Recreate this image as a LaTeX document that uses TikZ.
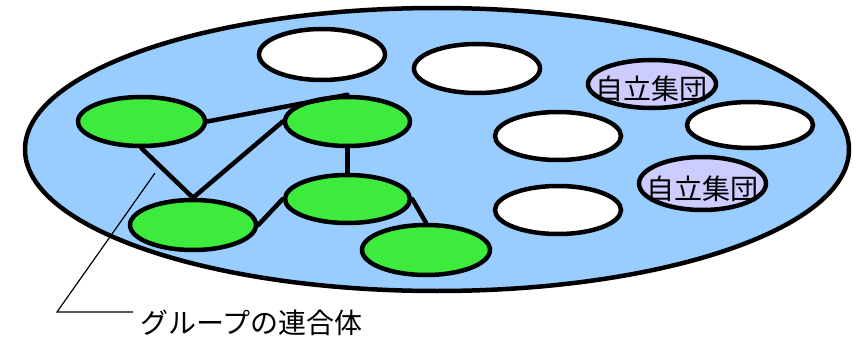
\documentclass[tikz,border=0pt]{standalone}
\usepackage{fontspec}
\newfontfamily\cjk{Noto Sans CJK JP}
\usetikzlibrary{shapes.geometric}
\definecolor{skyfill}{HTML}{99CCFF}
\definecolor{grpgreen}{HTML}{3CEB3C}
\definecolor{autopurple}{HTML}{CCCCFF}
\begin{document}
\begin{tikzpicture}[x=1pt,y=-1pt,
  oval/.style={ellipse,draw=black,line width=4.5pt,inner sep=0pt},
  gnode/.style={oval,fill=grpgreen},
  wnode/.style={oval,fill=white},
  pnode/.style={oval,fill=autopurple},
  link/.style={line width=4.5pt,line cap=round},
  lbl/.style={font=\cjk\fontsize{28}{30}\selectfont,inner sep=0pt}]
\useasboundingbox (0,0) rectangle (863,337);
\node[oval,fill=skyfill,minimum width=824pt,minimum height=283pt] (big) at (437,149.5) {};
% white groups
\node[wnode,minimum width=126pt,minimum height=51pt] (w1) at (322,54.5) {};
\node[wnode,minimum width=126pt,minimum height=49pt] (w2) at (477,68.5) {};
\node[wnode,minimum width=126pt,minimum height=48pt] (w3) at (558,136) {};
\node[wnode,minimum width=126pt,minimum height=46pt] (w4) at (750,125) {};
\node[wnode,minimum width=126pt,minimum height=48pt] (w5) at (558,210) {};
% autonomous groups
\node[pnode,minimum width=128pt,minimum height=48pt] (p1) at (652,84) {};
\node[pnode,minimum width=127pt,minimum height=53pt] (p2) at (702.5,183.5) {};
\node[lbl] (p1t) at (651.5,89) {自立集団};
\node[lbl] (p2t) at (702,188.5) {自立集団};
% green groups
\node[gnode,minimum width=127pt,minimum height=49pt] (g1) at (141.5,121.5) {};
\node[gnode,minimum width=125pt,minimum height=49pt] (g2) at (347.5,121.5) {};
\node[gnode,minimum width=126pt,minimum height=50pt] (g3) at (193,225) {};
\node[gnode,minimum width=125pt,minimum height=48pt] (g4) at (347.5,199) {};
\node[gnode,minimum width=128pt,minimum height=50pt] (g5) at (426,250) {};
% links
\draw[link] (g1.east) -- (g2.north);
\draw[link] (g1.south) -- (g3.north);
\draw[link] (g3.north) -- (g2.west);
\draw[link] (g2.south) -- (g4.north);
\draw[link] (g3.east) -- (g4.west);
\draw[link] (g4.east) -- (g5.north);
% leader
\node[lbl,anchor=west] (cap) at (140,323) {グループの連合体};
\coordinate (lend) at (133,312);
\coordinate (lknee) at (57,312);
\coordinate (ltip) at (155,173);
\draw[line width=1.2pt] (lend) -- (lknee) -- (ltip);
\end{tikzpicture}
\end{document}
